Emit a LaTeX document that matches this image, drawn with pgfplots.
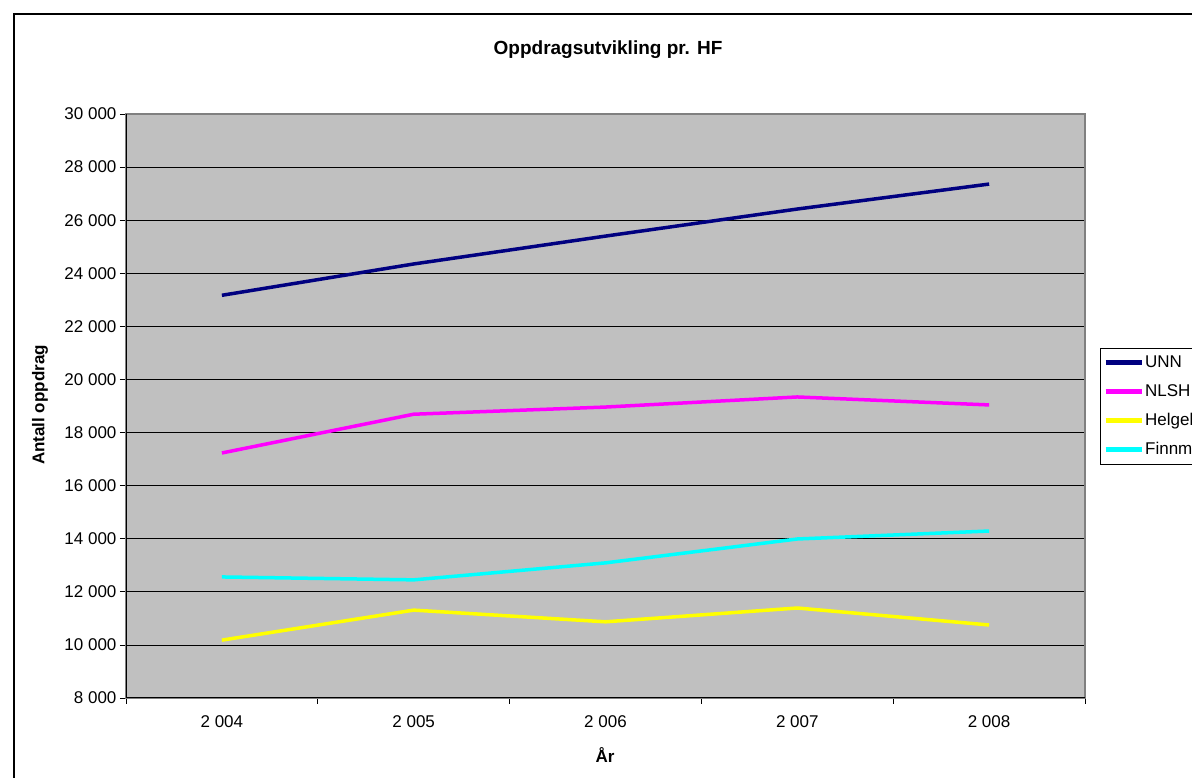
\documentclass[border=0pt]{standalone}
\usepackage{fontspec}
\setmainfont{Liberation Sans}
\usepackage{pgfplots}
\pgfplotsset{compat=1.18}
\definecolor{unn}{RGB}{0,0,128}
\definecolor{nlsh}{RGB}{255,0,255}
\definecolor{helg}{RGB}{255,255,0}
\definecolor{finn}{RGB}{0,255,255}
\definecolor{plotbg}{RGB}{192,192,192}
\definecolor{frameg}{RGB}{128,128,128}
\begin{document}
\begin{tikzpicture}
\useasboundingbox (0pt,0pt) rectangle (1192pt,778pt);
\clip (0pt,0pt) rectangle (1192pt,778pt);
\draw[black, line width=1.5pt] (14pt,764pt) rectangle (1260pt,-30pt);
\begin{axis}[
  at={(126pt,80pt)}, anchor=south west,
  scale only axis, width=959pt, height=584pt,
  xmin=-0.5, xmax=4.5, ymin=8000, ymax=30000,
  axis background/.style={fill=plotbg},
  axis line style={draw=frameg, line width=1.2pt},
  xtick={-0.5,0.5,...,4.5}, xticklabels={},
  extra x ticks={0,1,2,3,4},
  extra x tick labels={2 004,2 005,2 006,2 007,2 008},
  extra x tick style={major tick length=0pt, grid=none},
  ytick={8000,10000,...,30000},
  yticklabels={8 000,10 000,12 000,14 000,16 000,18 000,20 000,22 000,24 000,26 000,28 000,30 000},
  scaled y ticks=false,
  xtick pos=bottom, ytick pos=left,
  tick align=outside, major tick length=6pt,
  tick style={black, line width=0.8pt},
  ymajorgrids, grid style={black, line width=0.8pt},
  tick label style={font=\fontsize{17}{17}\selectfont},
  xticklabel style={yshift=-14pt},
  legend style={at={(1.0156,0.599)}, anchor=north west, draw=black, fill=white,
    font=\fontsize{17}{17}\selectfont, inner xsep=3pt, inner ysep=7pt, row sep=14pt,
    column sep=1pt,
    nodes={inner sep=0pt, text height=12pt, text depth=3pt}},
  legend cell align=left,
  legend image code/.code={\draw[#1, line width=5pt] (0pt,0pt) -- (36pt,0pt);},
  every axis plot/.append style={line width=3.5pt, no markers},
]
\draw[black, line width=1.2pt] (rel axis cs:0,1) -- (rel axis cs:0,0) -- (rel axis cs:1,0);
\addplot[unn] coordinates {(0,23170) (1,24350) (2,25400) (3,26420) (4,27360)};
\addlegendentry{UNN}
\addplot[nlsh] coordinates {(0,17230) (1,18690) (2,18960) (3,19340) (4,19040)};
\addlegendentry{NLSH}
\addplot[helg] coordinates {(0,10180) (1,11310) (2,10870) (3,11390) (4,10750)};
\addlegendentry{Helgeland}
\addplot[finn] coordinates {(0,12560) (1,12450) (2,13090) (3,13990) (4,14290)};
\addlegendentry{Finnmark}
\end{axis}
\node[font=\bfseries\fontsize{19}{19}\selectfont] at (608pt,728pt) {Oppdragsutvikling pr. HF};
\node[font=\bfseries\fontsize{17}{17}\selectfont, rotate=90] at (40pt,373pt) {Antall oppdrag};
\node[font=\bfseries\fontsize{17}{17}\selectfont] at (605pt,23pt) {År};
\end{tikzpicture}
\end{document}
